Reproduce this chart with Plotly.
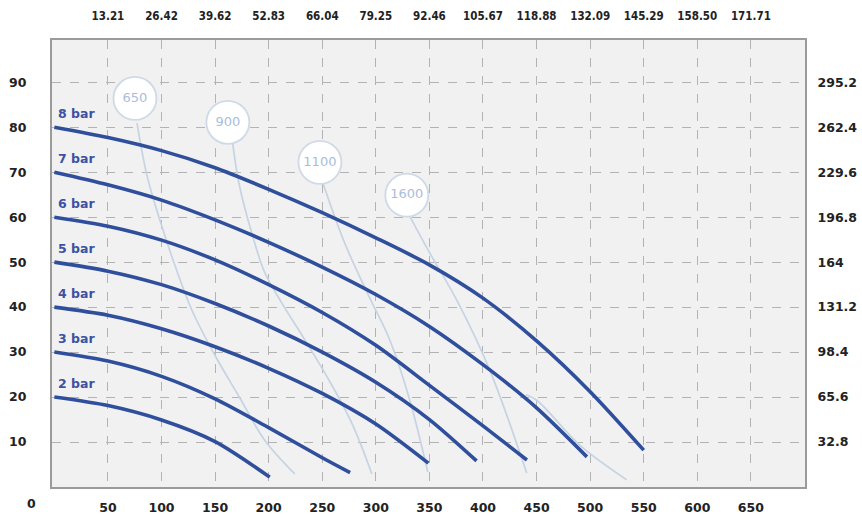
import plotly.graph_objects as go

# ---------------- data ----------------
flow_ticks = [50, 100, 150, 200, 250, 300, 350, 400, 450, 500, 550, 600, 650]
flow_labels = ["50", "100", "150", "200", "250", "300", "350", "400", "450", "500", "550", "600", "650"]
gpm_labels = ["13.21", "26.42", "39.62", "52.83", "66.04", "79.25", "92.46", "105.67",
              "118.88", "132.09", "145.29", "158.50", "171.71"]
head_ticks = [10, 20, 30, 40, 50, 60, 70, 80, 90]
head_labels = ["10", "20", "30", "40", "50", "60", "70", "80", "90"]
feet_labels = ["32.8", "65.6", "98.4", "131.2", "164", "196.8", "229.6", "262.4", "295.2"]

bar_names = ["2 bar", "3 bar", "4 bar", "5 bar", "6 bar", "7 bar", "8 bar"]
bar2_flow = [0, 50, 100, 150, 201]
bar2_head = [20, 18.1, 14.9, 10.1, 2.2]
bar3_flow = [0, 50, 100, 150, 200, 250, 276]
bar3_head = [30, 28, 24.6, 19.6, 13.2, 6.5, 3.2]
bar4_flow = [0, 50, 100, 150, 200, 250, 300, 349]
bar4_head = [40, 38.2, 35.2, 31.2, 26.4, 20.8, 14, 5.3]
bar5_flow = [0, 50, 100, 150, 200, 250, 300, 350, 394]
bar5_head = [50, 48, 45, 40.8, 35.8, 30, 23.3, 15, 5.8]
bar6_flow = [0, 50, 100, 150, 200, 250, 300, 350, 400, 441]
bar6_head = [60, 58, 54.9, 50.5, 45, 38.8, 31.5, 22.6, 13.6, 6]
bar7_flow = [0, 50, 100, 150, 200, 250, 300, 350, 400, 450, 497]
bar7_head = [70, 67.2, 63.8, 59.4, 54.4, 48.9, 42.8, 35.7, 27.2, 17.6, 6.7]
bar8_flow = [0, 50, 100, 150, 200, 250, 300, 350, 400, 450, 500, 550]
bar8_head = [80, 77.7, 74.8, 71, 66.2, 61, 55.4, 49.4, 42, 32.5, 21.2, 8.2]

air_names = ["650", "900", "1100", "1600"]
air650_flow = [77.1, 86.4, 98.5, 112.5, 128.4, 149.8, 173.1, 196.3, 224.4]
air650_head = [80.9, 69.3, 59.3, 49.3, 39.3, 29.3, 19.8, 10.4, 2.9]
air900_flow = [165.7, 172.2, 184.3, 196.5, 212.3, 233.8, 256.2, 277.6, 296.3]
air900_head = [77.8, 67.6, 56.4, 47.6, 40.9, 32.7, 23.8, 14.2, 2.9]
air1100_flow = [250.6, 271, 294.4, 313, 331.7, 348.5]
air1100_head = [67.6, 54.2, 42, 32.7, 19.3, 3.3]
air1600_flow = [331.7, 350.4, 375.4, 406.3, 440.8]
air1600_head = [60.2, 52, 41.6, 26, 3.1]
airx_flow = [440, 450.2, 490.3, 534]
airx_head = [20.5, 19.3, 9.3, 1.6]
bubble_flow = [75.2, 161.9, 247.8, 328.9]
bubble_head = [86.4, 81.1, 72.2, 64.9]

# ---------------- figure ----------------
DARK = "#2f4f9d"
LIGHT = "#c6d3e3"
FONT = "DejaVu Sans, Verdana, sans-serif"
FONT_C = "DejaVu Sans Condensed, DejaVu Sans, sans-serif"

fig = go.Figure()

air_sets = [(air650_flow, air650_head), (air900_flow, air900_head),
            (air1100_flow, air1100_head), (air1600_flow, air1600_head),
            (airx_flow, airx_head)]
for fx, hy in air_sets:
    fig.add_trace(go.Scatter(x=fx, y=hy, mode="lines", line=dict(color=LIGHT, width=1.7, shape="spline"),
                             hoverinfo="skip", showlegend=False))

bar_sets = [(bar2_flow, bar2_head), (bar3_flow, bar3_head), (bar4_flow, bar4_head),
            (bar5_flow, bar5_head), (bar6_flow, bar6_head), (bar7_flow, bar7_head),
            (bar8_flow, bar8_head)]
for name, (fx, hy) in zip(bar_names, bar_sets):
    fig.add_trace(go.Scatter(x=fx, y=hy, mode="lines", name=name,
                             line=dict(color=DARK, width=3.6, shape="spline", smoothing=0.8),
                             showlegend=False))
    fig.add_annotation(x=1.5, y=hy[0] + 3.0, text="<b>" + name + "</b>", showarrow=False,
                       xanchor="left", yanchor="middle",
                       font=dict(family=FONT, size=12.5, color="#3d52a0"))

fig.add_trace(go.Scatter(x=bubble_flow, y=bubble_head, mode="markers+text", text=air_names,
                         textposition="middle center",
                         textfont=dict(family=FONT, size=13, color="#a9bedb"),
                         marker=dict(size=43, color="white", line=dict(color="#d0dae6", width=1.8)),
                         hoverinfo="skip", showlegend=False))

# invisible trace to anchor the secondary axes
fig.add_trace(go.Scatter(x=[0], y=[0], xaxis="x2", yaxis="y2", mode="markers",
                         marker=dict(opacity=0), hoverinfo="skip", showlegend=False))

XR = [-2.2, 700.5]
YR = [0, 99.4]
tickfont = dict(family=FONT, size=12.5, color="#222222")

fig.update_layout(
    width=862, height=515,
    margin=dict(l=52, r=57, t=40, b=28, autoexpand=False),
    paper_bgcolor="white",
    plot_bgcolor="#f1f1f1",
    xaxis=dict(range=XR, tickvals=flow_ticks, ticktext=["<b>%s</b>" % t for t in flow_labels],
               tickfont=tickfont, showgrid=True, gridcolor="#b3b3b3", griddash="dash", gridwidth=1,
               zeroline=False, ticks="outside", ticklen=8, tickcolor="rgba(0,0,0,0)", automargin=False,
               showline=True, linecolor="#9b9b9b", linewidth=2, mirror=True, fixedrange=True),
    yaxis=dict(range=YR, tickvals=head_ticks, ticktext=["<b>%s</b>" % t for t in head_labels],
               tickfont=tickfont, showgrid=True, gridcolor="#b3b3b3", griddash="dash", gridwidth=1,
               zeroline=False, ticks="outside", ticklen=21, tickcolor="rgba(0,0,0,0)", automargin=False,
               showline=True, linecolor="#9b9b9b", linewidth=2, mirror=True, fixedrange=True),
    xaxis2=dict(range=XR, overlaying="x", side="top", tickvals=flow_ticks,
                ticktext=["<b>%s</b>" % t for t in gpm_labels],
                tickfont=dict(family=FONT_C, size=11.5, color="#222222"), automargin=False,
                showgrid=False, zeroline=False, ticks="outside", ticklen=14,
                tickcolor="rgba(0,0,0,0)", fixedrange=True),
    yaxis2=dict(range=YR, overlaying="y", side="right", tickvals=head_ticks,
                ticktext=["<b>%s</b>" % t for t in feet_labels], automargin=False,
                tickfont=tickfont, showgrid=False, zeroline=False, ticks="outside", ticklen=9,
                tickcolor="rgba(0,0,0,0)", fixedrange=True),
)

fig.add_annotation(xref="paper", yref="paper", x=-0.027, y=-0.036, text="<b>0</b>", showarrow=False,
                   xanchor="center", yanchor="middle", font=tickfont)

fig.write_html("out.html", config={"displayModeBar": False},
               post_script="document.body.style.margin='0';document.body.style.overflow='hidden';")
